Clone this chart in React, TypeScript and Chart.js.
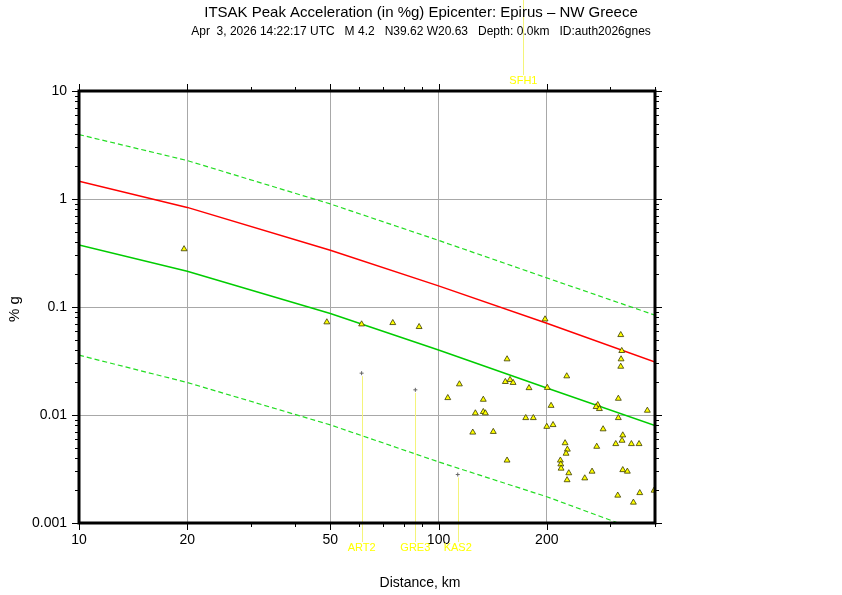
import { useEffect, useRef } from 'react';
import { Chart, registerables } from 'chart.js';

Chart.register(...registerables);

const FONT = "'Liberation Sans', Arial, Helvetica, sans-serif";

// Observed peak accelerations (distance km, %g)
const stationDistances = [
  19.6, 48.9, 61.1, 74.6, 88.3, 106.1, 114.3, 124.5, 126.6, 133.2,
  133.2, 135.0, 142.0, 155.1, 153.4, 158.1, 161.2, 155.1, 174.8, 178.5,
  183.5, 197.8, 200.7, 200.0, 205.6, 208.2, 227.3, 224.9, 228.2, 226.3,
  218.2, 218.8, 219.2, 230.3, 227.8, 255.1, 267.3, 275.4, 277.3, 274.3,
  280.2, 286.9, 316.3, 316.3, 321.2, 323.3, 321.9, 321.2, 325.4, 323.9,
  311.1, 343.9, 361.2, 325.4, 335.1, 315.1, 362.8, 348.3, 397.6, 380.9,
];
const stationPga = [
  0.344, 0.0724, 0.0693, 0.0713, 0.0655, 0.0144, 0.0193, 0.0069, 0.0104, 0.0139,
  0.0107, 0.0104, 0.0070, 0.0329, 0.0203, 0.0212, 0.0199, 0.0038, 0.0094, 0.0178,
  0.0094, 0.0771, 0.0179, 0.0078, 0.0122, 0.0081, 0.0229, 0.0055, 0.0048, 0.0044,
  0.0038, 0.0035, 0.0032, 0.0029, 0.0025, 0.0026, 0.0030, 0.0051, 0.0124, 0.0119,
  0.0114, 0.0074, 0.0142, 0.0094, 0.0552, 0.0393, 0.0329, 0.0281, 0.0065, 0.0058,
  0.0054, 0.0054, 0.0054, 0.0031, 0.0030, 0.0018, 0.0019, 0.00155, 0.0020, 0.0110,
];

// Flagged stations (gray crosses with labels)
const flaggedNames = ['ART2', 'GRE3', 'KAS2'];
const flaggedDistances = [61.1, 86.2, 113.1];
const flaggedPga = [0.0244, 0.0171, 0.00281];

// Off-scale station label shown above the plot
const offScaleName = 'SFH1';
const offScaleDistance = 172.2;

// Prediction curves
const curveDistances = [10, 20, 50, 100, 200, 400];
const medianCurve = [1.46, 0.836, 0.335, 0.157, 0.0708, 0.031];
const lowerCurve = [0.375, 0.214, 0.0869, 0.040, 0.0178, 0.008];
const upperDashCurve = [3.95, 2.27, 0.90, 0.414, 0.186, 0.084];
const lowerDashCurve = [0.0358, 0.0200, 0.0081, 0.00368, 0.00175, 0.00075];

// Axes
const xMajorTicks = [10, 20, 50, 100, 200];
const yMajorTicks = [0.001, 0.01, 0.1, 1, 10];
const xMin = 10;
const xMax = 400;
const yMin = 0.001;
const yMax = 10;

const titleText = 'ITSAK Peak Acceleration (in %g) Epicenter: Epirus \u2013 NW Greece';
const subtitleText = 'Apr  3, 2026 14:22:17 UTC   M 4.2   N39.62 W20.63   Depth: 0.0km   ID:auth2026gnes';
const xTitle = 'Distance, km';
const yTitle = '% g';

const toPts = (xs: number[], ys: number[]) => xs.map((x, i) => ({ x, y: ys[i] }));

const W = 842;
const H = 595;
const Y_SCALE_W = 60;
const X_SCALE_H = 30;

function m10(v: number) {
  const l = Math.log10(v);
  return Math.abs(l - Math.round(l)) < 1e-6;
}

const overlayPlugin = {
  id: 'overlay',
  beforeDatasetsDraw(chart: any) {
    const ctx = chart.ctx;
    const xs = chart.scales.x;
    const ys = chart.scales.y;
    ctx.save();
    ctx.strokeStyle = '#f4f47a';
    ctx.lineWidth = 1;
    flaggedDistances.forEach((d, i) => {
      const px = Math.round(xs.getPixelForValue(d)) + 0.5;
      const py = ys.getPixelForValue(flaggedPga[i]);
      ctx.beginPath();
      ctx.moveTo(px, py + 3);
      ctx.lineTo(px, 542);
      ctx.stroke();
    });
    const sx = Math.round(xs.getPixelForValue(offScaleDistance)) + 0.5;
    ctx.beginPath();
    ctx.moveTo(sx, 0);
    ctx.lineTo(sx, 75);
    ctx.stroke();
    ctx.restore();
  },
  afterDraw(chart: any) {
    const ctx = chart.ctx;
    const xs = chart.scales.x;
    const ys = chart.scales.y;
    const { left, right, top, bottom } = chart.chartArea;
    ctx.save();
    // tick marks
    ctx.strokeStyle = '#000';
    ctx.lineWidth = 1;
    const xTickVals: number[] = [];
    for (let d = 10; d <= 100; d *= 10) for (let m = 1; m <= 9; m++) if (d * m <= xMax) xTickVals.push(d * m);
    xTickVals.push(xMax);
    xTickVals.forEach((v) => {
      const major = xMajorTicks.includes(v);
      const len = major ? 6 : 3;
      const px = Math.round(xs.getPixelForValue(v)) + 0.5;
      ctx.beginPath();
      ctx.moveTo(px, bottom);
      ctx.lineTo(px, bottom + len + 1);
      ctx.moveTo(px, top);
      ctx.lineTo(px, top - len - 1);
      ctx.stroke();
    });
    const yTickVals: number[] = [];
    for (let d = 0.001; d < 10; d *= 10) for (let m = 1; m <= 9; m++) yTickVals.push(d * m);
    yTickVals.push(10);
    yTickVals.forEach((v) => {
      const len = m10(v) ? 6 : 3;
      const py = Math.round(ys.getPixelForValue(v)) + 0.5;
      ctx.beginPath();
      ctx.moveTo(left, py);
      ctx.lineTo(left - len - 1, py);
      ctx.moveTo(right, py);
      ctx.lineTo(right + len + 1, py);
      ctx.stroke();
    });
    // frame
    ctx.lineWidth = 3;
    ctx.strokeRect(left, top, right - left, bottom - top);

    // station labels
    ctx.fillStyle = '#ffff00';
    ctx.font = `11px ${FONT}`;
    ctx.textAlign = 'center';
    ctx.textBaseline = 'middle';
    flaggedNames.forEach((n, i) => {
      ctx.fillText(n, xs.getPixelForValue(flaggedDistances[i]), 548);
    });
    ctx.fillText(offScaleName, xs.getPixelForValue(offScaleDistance), 81);

    // titles
    ctx.fillStyle = '#000';
    ctx.font = `15px ${FONT}`;
    ctx.fillText(titleText, 421, 13);
    ctx.font = `12px ${FONT}`;
    ctx.fillText(subtitleText, 421, 32);
    ctx.font = `14px ${FONT}`;
    ctx.fillText(xTitle, 420, 583);
    ctx.translate(15, 309);
    ctx.rotate(-Math.PI / 2);
    ctx.font = `15px ${FONT}`;
    ctx.fillText(yTitle, 0, 0);
    ctx.restore();
  },
};

export default function App() {
  const ref = useRef<HTMLCanvasElement>(null);
  useEffect(() => {
    if (!ref.current) return;
    const chart = new Chart(ref.current, {
      type: 'scatter',
      data: {
        datasets: [
          {
            label: 'Observed',
            data: toPts(stationDistances, stationPga),
            pointStyle: 'triangle',
            pointRadius: 3.4,
            backgroundColor: '#ffff00',
            borderColor: '#3a3a00',
            borderWidth: 0.8,
            order: 0,
          },
          {
            label: 'Flagged',
            data: toPts(flaggedDistances, flaggedPga),
            pointStyle: 'cross',
            pointRadius: 2,
            borderColor: '#666',
            borderWidth: 1,
            order: 1,
          },
          {
            label: 'Median',
            data: toPts(curveDistances, medianCurve),
            showLine: true,
            pointRadius: 0,
            borderColor: '#ff0000',
            borderWidth: 1.5,
            order: 2,
          },
          {
            label: 'Lower',
            data: toPts(curveDistances, lowerCurve),
            showLine: true,
            pointRadius: 0,
            borderColor: '#00cc00',
            borderWidth: 1.5,
            order: 3,
          },
          {
            label: 'Upper dashed',
            data: toPts(curveDistances, upperDashCurve),
            showLine: true,
            pointRadius: 0,
            borderColor: '#22dd22',
            borderWidth: 1.2,
            borderDash: [5, 3],
            order: 4,
          },
          {
            label: 'Lower dashed',
            data: toPts(curveDistances, lowerDashCurve),
            showLine: true,
            pointRadius: 0,
            borderColor: '#22dd22',
            borderWidth: 1.2,
            borderDash: [5, 3],
            order: 5,
          },
        ],
      },
      options: {
        responsive: false,
        animation: false,
        layout: {
          padding: { left: 79 - Y_SCALE_W, top: 91, right: W - 655, bottom: H - 523 - X_SCALE_H },
        },
        plugins: {
          legend: { display: false },
          tooltip: { enabled: false },
          title: { display: false },
        },
        scales: {
          x: {
            type: 'logarithmic',
            min: xMin,
            max: xMax,
            afterBuildTicks: (s: any) => {
              s.ticks = xMajorTicks.map((v) => ({ value: v }));
            },
            afterFit: (s: any) => {
              s.height = X_SCALE_H;
            },
            grid: { color: '#a8a8a8', lineWidth: 1, drawTicks: false },
            border: { display: false },
            ticks: {
              autoSkip: false,
              maxRotation: 0,
              padding: 9,
              color: '#000',
              font: { family: FONT, size: 14 },
              callback: (v: any) => String(v),
            },
          },
          y: {
            type: 'logarithmic',
            min: yMin,
            max: yMax,
            afterBuildTicks: (s: any) => {
              s.ticks = yMajorTicks.map((v) => ({ value: v }));
            },
            afterFit: (s: any) => {
              s.width = Y_SCALE_W;
            },
            grid: { color: '#a8a8a8', lineWidth: 1, drawTicks: false },
            border: { display: false },
            ticks: {
              autoSkip: false,
              padding: 12,
              color: '#000',
              font: { family: FONT, size: 14 },
              callback: (v: any) => String(v),
            },
          },
        },
      },
      plugins: [overlayPlugin],
    });
    return () => chart.destroy();
  }, []);
  return (
    <div style={{ position: 'fixed', left: 0, top: 0, width: W, height: H, background: '#fff' }}>
      <canvas ref={ref} width={W} height={H} style={{ display: 'block' }} />
    </div>
  );
}
